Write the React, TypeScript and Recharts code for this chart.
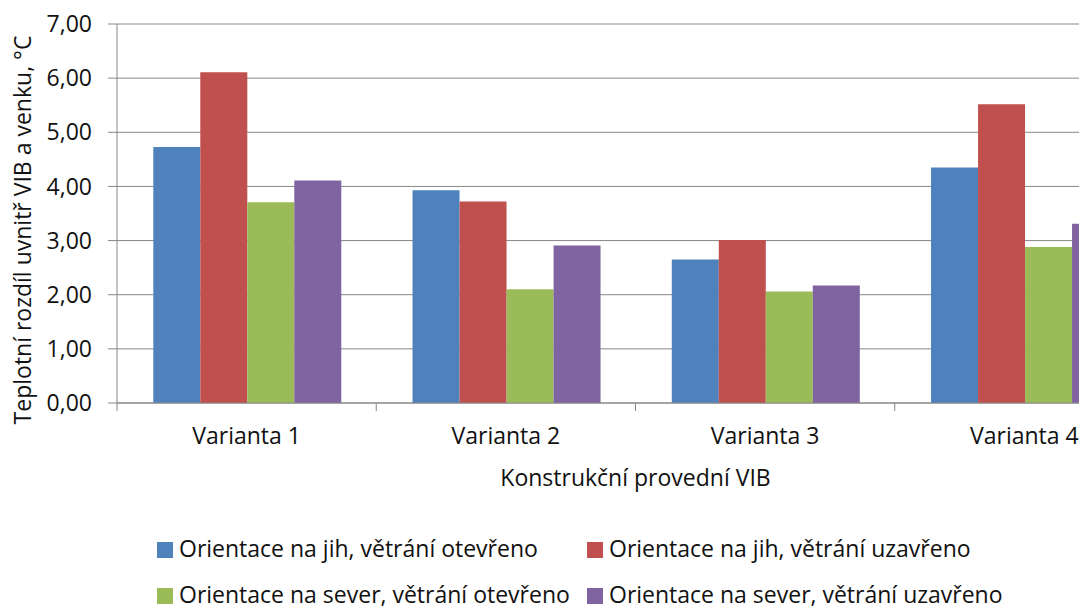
import { BarChart, Bar, XAxis, YAxis, CartesianGrid, Legend } from "recharts";

const categories = ["Varianta 1", "Varianta 2", "Varianta 3", "Varianta 4"];
const jihOtevreno = [4.73, 3.93, 2.65, 4.35];
const jihUzavreno = [6.11, 3.72, 3.01, 5.52];
const severOtevreno = [3.71, 2.1, 2.06, 2.88];
const severUzavreno = [4.11, 2.91, 2.17, 3.31];
const yTicks = [0, 1, 2, 3, 4, 5, 6, 7];

const seriesNames = [
  "Orientace na jih, větrání otevřeno",
  "Orientace na jih, větrání uzavřeno",
  "Orientace na sever, větrání otevřeno",
  "Orientace na sever, větrání uzavřeno",
];

const data = categories.map((name, i) => ({
  name,
  jo: jihOtevreno[i],
  ju: jihUzavreno[i],
  so: severOtevreno[i],
  su: severUzavreno[i],
}));

const FONT = "'Open Sans', sans-serif";
const TEXT = "#111";
const GRID = "#878787";

const CHART_W = 1200;
const Y_W = 117;
const RIGHT = 46;
const HALF_BAND = (CHART_W - Y_W - RIGHT) / categories.length / 2;

// ticks sit between categories like in the Excel original
function CategoryTick(props: any) {
  const { x, y, payload } = props;
  const axisY = y - 25;
  return (
    <g>
      <line x1={x - HALF_BAND} x2={x - HALF_BAND} y1={axisY} y2={axisY + 8} stroke={GRID} />
      <text x={x} y={y} dy="0.71em" textAnchor="middle" fontSize={23} fontFamily={FONT} fill={TEXT}>
        {payload.value}
      </text>
    </g>
  );
}

function renderLegend(props: any) {
  const items = props.payload || [];
  const pos = [
    { left: 157, top: 25 },
    { left: 587, top: 25 },
    { left: 157, top: 71 },
    { left: 587, top: 71 },
  ];
  return (
    <div style={{ position: "relative", height: 100, width: 1079, fontFamily: FONT, fontSize: 23, color: TEXT }}>
      {items.map((it: any, i: number) => (
        <div
          key={i}
          style={{ position: "absolute", left: pos[i].left, top: pos[i].top, height: 28, lineHeight: "28px", whiteSpace: "nowrap", display: "flex", alignItems: "center" }}
        >
          <span style={{ display: "inline-block", width: 16, height: 16, background: it.color, marginRight: 6, marginTop: 3 }} />
          <span>{it.value}</span>
        </div>
      ))}
    </div>
  );
}

export default function App() {
  return (
    <div style={{ position: "absolute", left: 0, top: 0, width: 1079, height: 609, overflow: "hidden", background: "#fff" }}>
      <BarChart
        width={CHART_W}
        height={609}
        data={data}
        margin={{ top: 24, right: RIGHT, left: 0, bottom: 0 }}
        barCategoryGap="14%"
        barGap={0}
      >
        <CartesianGrid horizontal vertical={false} stroke={GRID} />
        <XAxis
          dataKey="name"
          height={106}
          axisLine={{ stroke: GRID }}
          tickLine={false}
          tickSize={0}
          tickMargin={25}
          tick={<CategoryTick />}
          interval={0}
          label={{
            content: (p: any) => {
              const vb = p.viewBox;
              return (
                <text x={vb.x + vb.width / 2} y={vb.y + 83} textAnchor="middle" fontSize={23} fontFamily={FONT} fill={TEXT}>
                  Konstrukční provední VIB
                </text>
              );
            },
          }}
        />
        <YAxis
          width={Y_W}
          domain={[0, 7]}
          ticks={yTicks}
          interval={0}
          axisLine={{ stroke: GRID }}
          tickLine={{ stroke: GRID }}
          tickSize={9}
          tickMargin={16}
          tick={{ fontSize: 23, fontFamily: FONT, fill: TEXT }}
          tickFormatter={(v: number) => v.toFixed(2).replace(".", ",")}
          label={{
            content: () => (
              <text x={31} y={230} transform="rotate(-90, 31, 230)" textAnchor="middle" fontSize={23} fontFamily={FONT} fill={TEXT}>
                Teplotní rozdíl uvnitř VIB a venku, °C
              </text>
            ),
          }}
        />
        <Legend verticalAlign="bottom" content={renderLegend} wrapperStyle={{ left: 0, width: 1079, height: 100 }} />
        <Bar dataKey="jo" name={seriesNames[0]} fill="#4F81BD" isAnimationActive={false} />
        <Bar dataKey="ju" name={seriesNames[1]} fill="#C0504D" isAnimationActive={false} />
        <Bar dataKey="so" name={seriesNames[2]} fill="#9BBB59" isAnimationActive={false} />
        <Bar dataKey="su" name={seriesNames[3]} fill="#8064A2" isAnimationActive={false} />
      </BarChart>
    </div>
  );
}
